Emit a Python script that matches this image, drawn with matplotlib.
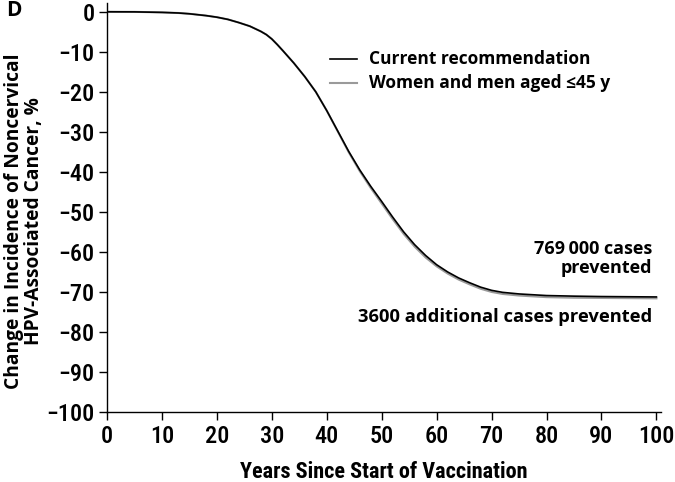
import matplotlib
matplotlib.use("Agg")
import matplotlib.pyplot as plt
from matplotlib import font_manager as fm

years = [0, 5, 10, 13, 15, 18, 20, 22, 24, 26, 28, 29, 30, 31, 32, 34, 36, 38, 40, 42, 44, 46, 48, 50,
         52, 54, 56, 58, 60, 62, 64, 66, 68, 70, 72, 75, 80, 85, 90, 95, 100]
current = [0, -0.02, -0.15, -0.3, -0.5, -0.95, -1.35, -1.9, -2.7, -3.6, -4.9, -5.7, -6.8, -8.2, -9.7,
           -12.8, -16.2, -20.0, -24.7, -29.8, -34.9, -39.5, -43.6, -47.4,
           -51.3, -55.0, -58.2, -60.9, -63.2, -65.0, -66.5, -67.7, -68.8, -69.6, -70.1, -70.5,
           -70.9, -71.05, -71.15, -71.2, -71.25]
women_men = [0, -0.02, -0.15, -0.3, -0.5, -0.95, -1.35, -1.9, -2.7, -3.6, -4.9, -5.7, -6.8, -8.2, -9.7,
             -12.8, -16.2, -20.0, -24.7, -29.9, -35.1, -39.8, -44.0, -47.9,
             -51.8, -55.5, -58.7, -61.4, -63.6, -65.4, -66.9, -68.1, -69.2, -70.0, -70.5, -70.9,
             -71.3, -71.45, -71.5, -71.55, -71.6]
x_ticks = [0, 10, 20, 30, 40, 50, 60, 70, 80, 90, 100]
y_ticks = [0, -10, -20, -30, -40, -50, -60, -70, -80, -90, -100]
series_labels = ["Current recommendation", "Women and men aged \u226445 y"]


def pick(names):
    for n in names:
        try:
            fm.findfont(n, fallback_to_default=False)
            return n
        except Exception:
            pass
    return "DejaVu Sans"

narrow = pick(["Liberation Sans Narrow", "Roboto Condensed", "DejaVu Sans Condensed", "DejaVu Sans"])
boldf = pick(["Open Sans", "Noto Sans", "DejaVu Sans"])

fig = plt.figure(figsize=(6.75, 4.82), dpi=100)
ax = fig.add_axes([0.1585, 0.1452, 0.979 - 0.1585, 0.9938 - 0.1452])

ax.plot(years, women_men, color="#9a9a9a", lw=1.5, zorder=2)
ax.plot(years, current, color="black", lw=1.2, zorder=3)

ax.set_xlim(0, 100.8)
ax.set_ylim(-100, 2.2)
ax.set_xticks(x_ticks)
ax.set_yticks(y_ticks)
ax.set_yticklabels([("\u2212" + str(abs(v))) if v < 0 else str(v) for v in y_ticks])
for lab in ax.get_xticklabels() + ax.get_yticklabels():
    lab.set_fontfamily([narrow, "DejaVu Sans"])
    lab.set_fontsize(17.5)
    lab.set_fontweight("medium")
ax.tick_params(direction="out", length=6, width=1, color="black", pad=3)
for s in ["top", "right"]:
    ax.spines[s].set_visible(False)
for s in ["left", "bottom"]:
    ax.spines[s].set_linewidth(1)

ax.set_xlabel("Years Since Start of Vaccination", fontfamily=[narrow, "DejaVu Sans"],
              fontsize=16, fontweight="bold", labelpad=10)
ax.set_ylabel("Change in Incidence of Noncervical\nHPV-Associated Cancer, %",
              fontfamily=[boldf, "DejaVu Sans"], fontsize=13.8, fontweight="bold",
              linespacing=0.98)
ax.yaxis.set_label_coords(-0.114, 0.467)

# legend
ax.plot([40.5, 45.5], [-11.7, -11.7], color="black", lw=1.2, clip_on=False)
ax.plot([40.5, 45.5], [-17.9, -17.9], color="#9a9a9a", lw=1.5, clip_on=False)
ax.text(47.7, -11.7, series_labels[0], fontfamily=[boldf, "DejaVu Sans"], fontsize=12.5,
        fontweight="bold", va="center", ha="left")
ax.text(47.7, -17.9, series_labels[1], fontfamily=[boldf, "DejaVu Sans"], fontsize=12.5,
        fontweight="bold", va="center", ha="left")

ax.text(99.3, -61.7, "769\u2009000 cases\nprevented", fontfamily=[boldf, "DejaVu Sans"],
        fontsize=13, fontweight="bold", ha="right", va="center", linespacing=1.1)
ax.text(99.3, -76.3, "3600 additional cases prevented", fontfamily=[boldf, "DejaVu Sans"],
        fontsize=13.2, fontweight="bold", ha="right", va="center")

fig.text(0.009, 0.978, "D", fontfamily=[boldf, "DejaVu Sans"], fontsize=15, fontweight="bold",
         ha="left", va="center")

fig.savefig("out.png", dpi=100)
